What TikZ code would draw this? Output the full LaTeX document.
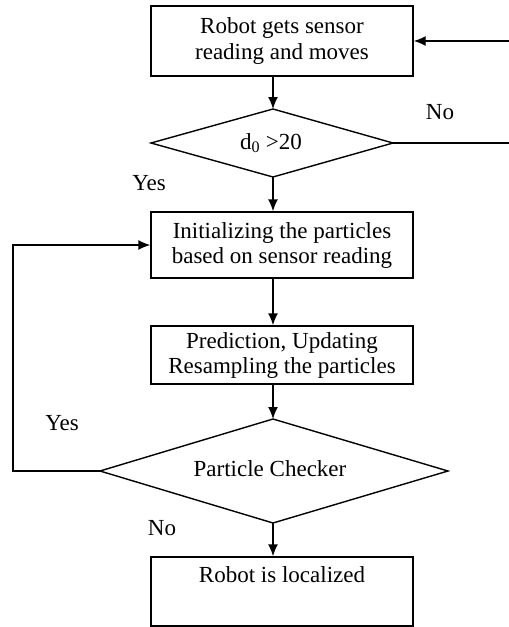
\documentclass[tikz,border=0pt]{standalone}
\usepackage{fontspec}
\setmainfont{Liberation Serif}
\usetikzlibrary{arrows.meta}
\begin{document}
\begin{tikzpicture}[x=1pt,y=-1pt,
  every node/.style={font=\fontsize{23}{25}\selectfont},
  procbox/.style={draw,line width=1.4pt,rectangle,inner sep=0pt,minimum width=262pt,align=center},
  dtext/.style={inner sep=0pt},
  conn/.style={line width=1.4pt},
  arr/.style={conn,-{Latex[length=12pt,width=10pt]}},
  lbl/.style={inner sep=0pt}
]
\useasboundingbox (0,0) rectangle (509,627);
\node[procbox,minimum height=70pt] (b1) at (282,41) {Robot gets sensor\\reading and moves};
% decision 1
\coordinate (d1n) at (273,109);
\coordinate (d1e) at (393,143);
\coordinate (d1s) at (273,177);
\coordinate (d1w) at (151,143);
\draw[conn,line join=miter] (d1n) -- (d1e) -- (d1s) -- (d1w) -- cycle;
\node[dtext] (d1) at (271,143) {d\textsubscript{0} >20};
\node[procbox,minimum height=66pt] (b2) at (282,245) {Initializing the particles\\based on sensor reading};
\node[procbox,minimum height=58pt] (b3) at (282,355) {Prediction, Updating\\Resampling the particles};
% decision 2
\coordinate (d2n) at (273,419);
\coordinate (d2e) at (448,471);
\coordinate (d2s) at (273,523);
\coordinate (d2w) at (100,471);
\draw[conn,line join=miter] (d2n) -- (d2e) -- (d2s) -- (d2w) -- cycle;
\node[dtext] (d2) at (270,469) {Particle Checker};
\node[procbox,minimum height=69pt] (b4) at (282,591.5) {Robot is localized\\[2pt]\strut};
\coordinate (in1) at (509,41);
\coordinate (out1) at (509,143);
\coordinate (lp) at (13,471);
\draw[arr] (in1) -- (b1.east);
\draw[arr] (d1n |- b1.south) -- (d1n);
\draw[conn] (d1e) -- (out1);
\draw[arr] (d1s) -- (d1s |- b2.north);
\draw[arr] (d1s |- b2.south) -- (d1s |- b3.north);
\draw[arr] (d2n |- b3.south) -- (d2n);
\draw[arr] (d2s) -- (d2s |- b4.north);
\draw[arr] (d2w) -- (lp) |- (b2.west);
\node[lbl] (no1) at (440,112) {No};
\node[lbl] (yes1) at (149,183) {Yes};
\node[lbl] (yes2) at (62,423) {Yes};
\node[lbl] (no2) at (162,528) {No};
\end{tikzpicture}
\end{document}
